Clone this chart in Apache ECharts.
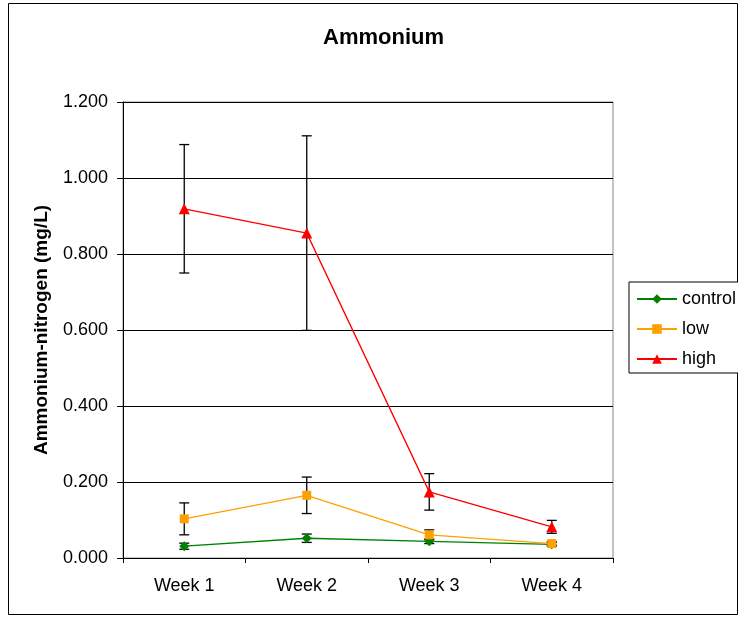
<!DOCTYPE html>
<html><head><meta charset="utf-8">
<script src="https://cdn.jsdelivr.net/npm/echarts@6/dist/echarts.min.js"></script>
<style>html,body{margin:0;padding:0;background:#fff}#c{width:738px;height:617px}</style>
</head><body><div id="c"></div>
<script>
var categories = ['Week 1', 'Week 2', 'Week 3', 'Week 4'];
var yTicks = [0, 0.2, 0.4, 0.6, 0.8, 1.0, 1.2];
var control = [0.031, 0.052, 0.044, 0.036];
var controlErr = [0.008, 0.011, 0.006, 0.005];
var low = [0.103, 0.165, 0.061, 0.038];
var lowErr = [0.042, 0.048, 0.013, 0.005];
var high = [0.919, 0.855, 0.174, 0.082];
var highErr = [0.169, 0.256, 0.048, 0.017];

function errData(vals, errs) {
  return vals.map(function (v, i) { return [i, v, errs[i]]; });
}
function errSeries(name, vals, errs) {
  return {
    type: 'custom', name: name, z: 1, silent: true,
    data: errData(vals, errs),
    renderItem: function (params, api) {
      var i = api.value(0), v = api.value(1), e = api.value(2);
      var top = api.coord([i, v + e]);
      var bot = api.coord([i, v - e]);
      var hw = 5;
      var st = { stroke: '#000', lineWidth: 1.3 };
      return {
        type: 'group', children: [
          { type: 'line', shape: { x1: top[0], y1: top[1], x2: bot[0], y2: bot[1] }, style: st },
          { type: 'line', shape: { x1: top[0] - hw, y1: top[1], x2: top[0] + hw, y2: top[1] }, style: st },
          { type: 'line', shape: { x1: bot[0] - hw, y1: bot[1], x2: bot[0] + hw, y2: bot[1] }, style: st }
        ]
      };
    }
  };
}
var font = 'Liberation Sans, Arial, sans-serif';
var chart = echarts.init(document.getElementById('c'), null, { renderer: 'canvas' });
chart.setOption({
  animation: false,
  backgroundColor: '#fff',
  textStyle: { fontFamily: font },
  graphic: [{
    type: 'rect', shape: { x: 8.5, y: 3.5, width: 729, height: 611 },
    style: { fill: 'none', stroke: '#000', lineWidth: 1 }, z: -1
  }],
  title: {
    text: 'Ammonium', left: 318, top: 22,
    textStyle: { fontSize: 22, fontWeight: 'bold', color: '#000', fontFamily: font }
  },
  legend: {
    orient: 'vertical', left: 629, top: 282,
    data: ['control', 'low', 'high'],
    itemWidth: 40, itemHeight: 12, itemGap: 12,
    padding: [8, 12, 5, 7],
    borderColor: '#000', borderWidth: 1, backgroundColor: '#fff',
    textStyle: { fontSize: 18, color: '#000', fontFamily: font }
  },
  grid: { left: 123, right: 125, top: 102, bottom: 59, show: true, borderColor: '#888', borderWidth: 1 },
  xAxis: {
    type: 'category', data: categories, boundaryGap: true,
    axisLine: { lineStyle: { color: '#000', width: 1 } },
    axisTick: { show: true, length: 5, inside: false, alignWithLabel: false, lineStyle: { color: '#000' } },
    axisLabel: { color: '#000', fontSize: 18, margin: 19, fontFamily: font }
  },
  yAxis: {
    type: 'value', min: 0, max: 1.2, interval: 0.2,
    name: 'Ammonium-nitrogen (mg/L)', nameLocation: 'middle', nameGap: 72, nameRotate: 90,
    nameTextStyle: { fontSize: 19, fontWeight: 'bold', color: '#000', fontFamily: font },
    axisLine: { show: true, lineStyle: { color: '#000', width: 1 } },
    axisTick: { show: true, length: 6, lineStyle: { color: '#000' } },
    axisLabel: { color: '#000', fontSize: 18, margin: 15, fontFamily: font,
      formatter: function (v) { return v.toFixed(3); } },
    splitLine: { show: true, lineStyle: { color: '#000', width: 1 } }
  },
  series: [
    errSeries('controlErr', control, controlErr),
    errSeries('lowErr', low, lowErr),
    errSeries('highErr', high, highErr),
    { type: 'line', name: 'control', data: control, z: 3, color: '#008000',
      symbol: 'diamond', symbolSize: 10, lineStyle: { width: 1.3, color: '#008000' },
      itemStyle: { color: '#008000' } },
    { type: 'line', name: 'low', data: low, z: 3, color: '#FFA000',
      symbol: 'rect', symbolSize: 9, lineStyle: { width: 1.3, color: '#FFA000' },
      itemStyle: { color: '#FFA000' } },
    { type: 'line', name: 'high', data: high, z: 3, color: '#FF0000',
      symbol: 'triangle', symbolSize: 11, lineStyle: { width: 1.3, color: '#FF0000' },
      itemStyle: { color: '#FF0000' } }
  ]
});
</script></body></html>
